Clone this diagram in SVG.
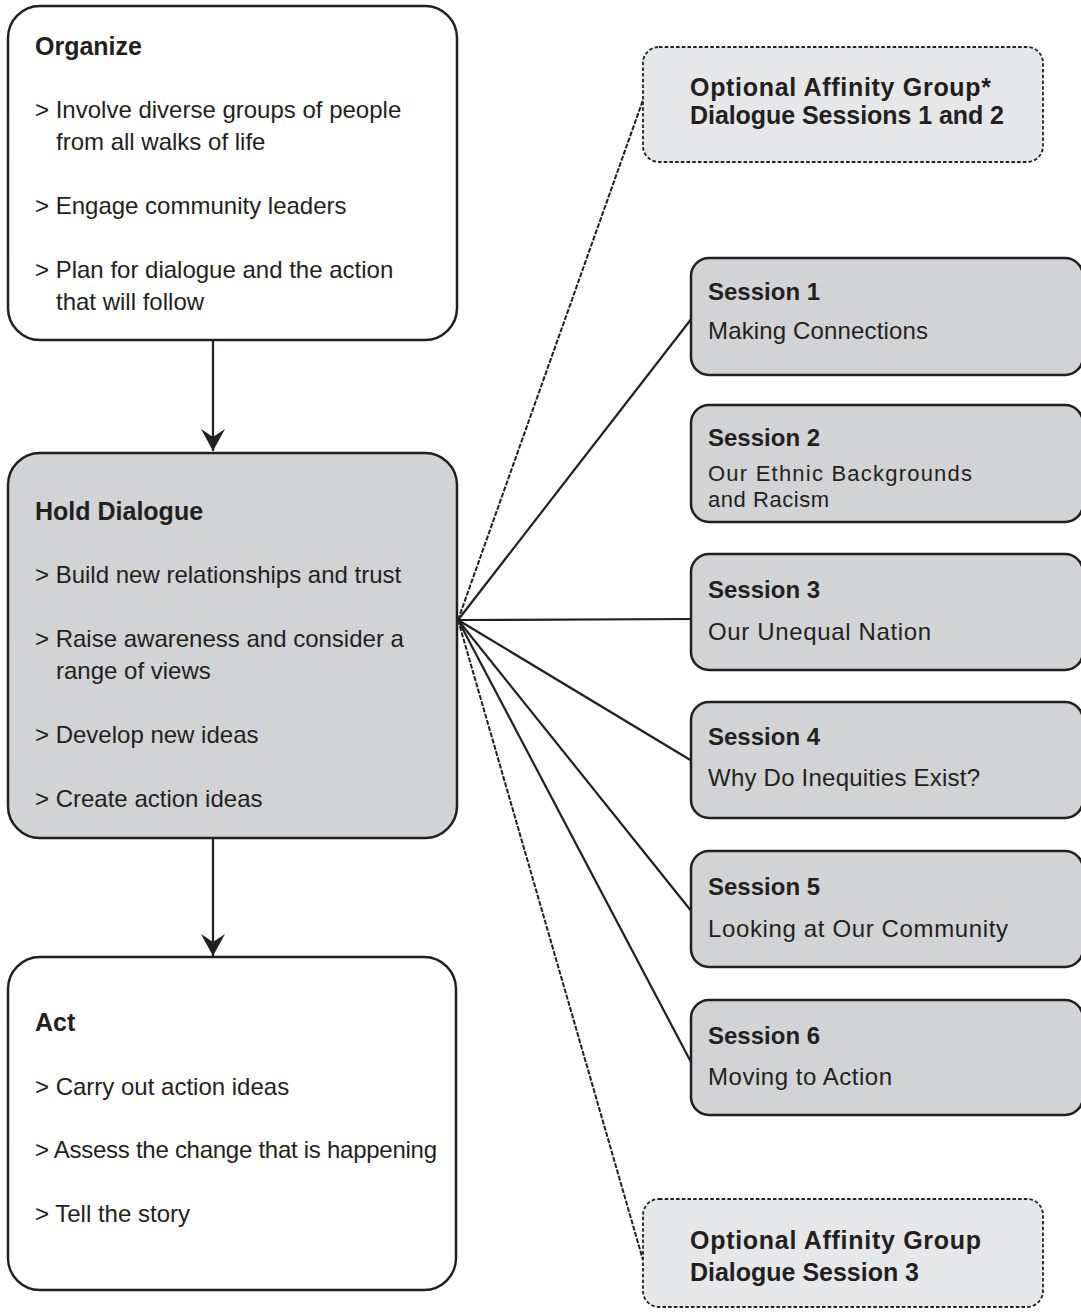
<svg xmlns="http://www.w3.org/2000/svg" width="1081" height="1312" viewBox="0 0 1081 1312">
<style>
  .box { stroke: #231f20; stroke-width: 2.5; }
  .white { fill: #ffffff; }
  .grey { fill: #d1d3d4; }
  .opt { fill: #e6e7e8; stroke: #231f20; stroke-width: 1.8; stroke-dasharray: 3.5 2.2; }
  .title { font-family: "Liberation Sans", Arial, sans-serif; font-weight: bold; font-size: 25px; fill: #231f20; }
  .stitle { font-family: "Liberation Sans", Arial, sans-serif; font-weight: bold; font-size: 24px; fill: #231f20; }
  .otitle { font-family: "Liberation Sans", Arial, sans-serif; font-weight: bold; font-size: 25px; fill: #231f20; }
  .body { font-family: "Liberation Sans", Arial, sans-serif; font-size: 24px; fill: #231f20; }
  .small { font-family: "Liberation Sans", Arial, sans-serif; font-size: 22px; fill: #231f20; }
  .conn { stroke: #231f20; stroke-width: 2.2; fill: none; }
  .dash { stroke: #231f20; stroke-width: 2; fill: none; stroke-dasharray: 5 1.5; }
</style>
<defs>
  <marker id="arrow" markerUnits="userSpaceOnUse" viewBox="0 0 22 24" refX="22" refY="12" markerWidth="22" markerHeight="24" orient="auto">
    <path d="M0,0 L22,12 L0,24 L8,12 Z" fill="#231f20"/>
  </marker>
</defs>
<rect width="1081" height="1312" fill="#ffffff"/>

<g id="connectors">
  <line class="conn" x1="213" y1="341" x2="213" y2="451" marker-end="url(#arrow)"/>
  <line class="conn" x1="213" y1="838" x2="213" y2="956" marker-end="url(#arrow)"/>
  <line class="dash" x1="458" y1="620" x2="643" y2="100"/>
  <line class="conn" x1="458" y1="620" x2="692" y2="318"/>
  <line class="conn" x1="458" y1="620" x2="692" y2="619"/>
  <line class="conn" x1="458" y1="620" x2="692" y2="761"/>
  <line class="conn" x1="458" y1="620" x2="692" y2="912"/>
  <line class="conn" x1="458" y1="620" x2="692" y2="1064"/>
  <line class="dash" x1="458" y1="620" x2="643" y2="1260"/>
</g>

<g id="organize">
  <rect class="box white" x="8" y="6" width="449" height="334" rx="32"/>
  <text class="title" x="35" y="55">Organize</text>
  <text class="body" x="35" y="118">&gt; Involve diverse groups of people</text>
  <text class="body" x="56" y="150">from all walks of life</text>
  <text class="body" x="35" y="214">&gt; Engage community leaders</text>
  <text class="body" x="35" y="278">&gt; Plan for dialogue and the action</text>
  <text class="body" x="56" y="310">that will follow</text>
</g>

<g id="hold-dialogue">
  <rect class="box grey" x="8" y="453" width="449" height="385" rx="32"/>
  <text class="title" x="35" y="520">Hold Dialogue</text>
  <text class="body" x="35" y="583">&gt; Build new relationships and trust</text>
  <text class="body" x="35" y="647">&gt; Raise awareness and consider a</text>
  <text class="body" x="56" y="679">range of views</text>
  <text class="body" x="35" y="743">&gt; Develop new ideas</text>
  <text class="body" x="35" y="807">&gt; Create action ideas</text>
</g>

<g id="act">
  <rect class="box white" x="8" y="957" width="448" height="333" rx="32"/>
  <text class="title" x="35" y="1031">Act</text>
  <text class="body" x="35" y="1095">&gt; Carry out action ideas</text>
  <text class="body" x="35" y="1158" textLength="402">&gt; Assess the change that is happening</text>
  <text class="body" x="35" y="1222">&gt; Tell the story</text>
</g>

<g id="optional-1-2">
  <rect class="opt" x="643" y="47" width="400" height="115" rx="16"/>
  <text class="otitle" x="690" y="96" textLength="301">Optional Affinity Group*</text>
  <text class="otitle" x="690" y="124" textLength="314">Dialogue Sessions 1 and 2</text>
</g>

<g id="session-1">
  <rect class="box grey" x="691" y="258" width="392" height="117" rx="18"/>
  <text class="stitle" x="708" y="300">Session 1</text>
  <text class="body" x="708" y="339" textLength="220">Making Connections</text>
</g>

<g id="session-2">
  <rect class="box grey" x="691" y="405" width="392" height="117" rx="18"/>
  <text class="stitle" x="708" y="446">Session 2</text>
  <text class="small" x="708" y="481" textLength="264">Our Ethnic Backgrounds</text>
  <text class="small" x="708" y="507" textLength="121">and Racism</text>
</g>

<g id="session-3">
  <rect class="box grey" x="691" y="554" width="392" height="116" rx="18"/>
  <text class="stitle" x="708" y="598">Session 3</text>
  <text class="body" x="708" y="640" textLength="223">Our Unequal Nation</text>
</g>

<g id="session-4">
  <rect class="box grey" x="691" y="702" width="392" height="116" rx="18"/>
  <text class="stitle" x="708" y="745">Session 4</text>
  <text class="body" x="708" y="786" textLength="272">Why Do Inequities Exist?</text>
</g>

<g id="session-5">
  <rect class="box grey" x="691" y="851" width="392" height="116" rx="18"/>
  <text class="stitle" x="708" y="895">Session 5</text>
  <text class="body" x="708" y="937" textLength="300">Looking at Our Community</text>
</g>

<g id="session-6">
  <rect class="box grey" x="691" y="1000" width="392" height="115" rx="18"/>
  <text class="stitle" x="708" y="1044">Session 6</text>
  <text class="body" x="708" y="1085" textLength="184">Moving to Action</text>
</g>

<g id="optional-3">
  <rect class="opt" x="643" y="1199" width="400" height="108" rx="16"/>
  <text class="otitle" x="690" y="1249" textLength="291">Optional Affinity Group</text>
  <text class="otitle" x="690" y="1281" textLength="229">Dialogue Session 3</text>
</g>
</svg>
